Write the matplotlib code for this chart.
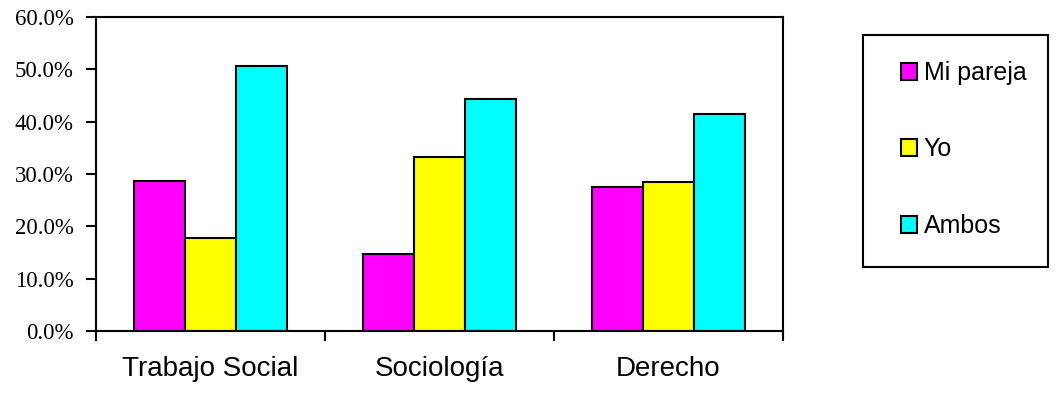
import numpy as np
import matplotlib.pyplot as plt
from matplotlib.patches import Rectangle
from matplotlib.ticker import FuncFormatter

categories = ['Trabajo Social', 'Sociología', 'Derecho']
series_names = ['Mi pareja', 'Yo', 'Ambos']
mi_pareja = [28.7, 14.7, 27.6]
yo = [17.7, 33.2, 28.4]
ambos = [50.6, 44.3, 41.4]
colors = ['#FF00FF', '#FFFF00', '#00FFFF']

fig = plt.figure(figsize=(10.56, 3.93), dpi=100)
ax = fig.add_axes([96 / 1056, 1 - 331 / 393, (783 - 96) / 1056, (331 - 17) / 393])

x = np.arange(len(categories))
w = 0.224
handles = []
for i, (vals, c) in enumerate(zip([mi_pareja, yo, ambos], colors)):
    b = ax.bar(x + (i - 1) * w, vals, w, color=c, edgecolor='black', linewidth=1.5,
               label=series_names[i])
    handles.append(b)

ax.set_xlim(-0.5, 2.5)
ax.set_ylim(0, 60)
ax.set_yticks(np.arange(0, 61, 10))
ax.yaxis.set_major_formatter(FuncFormatter(lambda v, p: '%.1f%%' % v))
ax.tick_params(axis='y', direction='out', length=7, width=1.5, pad=9,
               labelsize=16.5, labelfontfamily='Liberation Serif')

# group separators as major ticks, category names as minor ticks
ax.set_xticks([-0.5, 0.5, 1.5, 2.5])
ax.set_xticklabels([])
ax.tick_params(axis='x', which='major', direction='out', length=7, width=1.5)
ax.set_xticks(x, minor=True)
ax.set_xticklabels(categories, minor=True, fontfamily='Liberation Sans', fontsize=20)
ax.tick_params(axis='x', which='minor', length=0, pad=18)

for s in ax.spines.values():
    s.set_linewidth(1.5)

# legend box
fig.patches.append(Rectangle((863 / 1056, 1 - 267 / 393), (1048 - 863) / 1056, (267 - 35) / 393,
                             transform=fig.transFigure, fill=False, edgecolor='black',
                             linewidth=1.5))
leg = fig.legend(handles, series_names, loc='upper left',
                 bbox_to_anchor=(901 / 1056, 1 - 61 / 393), frameon=False,
                 prop={'family': 'Liberation Sans', 'size': 18},
                 handlelength=0.65, handleheight=0.65, handletextpad=0.25,
                 labelspacing=2.1, borderpad=0, borderaxespad=0)

fig.savefig('out.png', dpi=100)
